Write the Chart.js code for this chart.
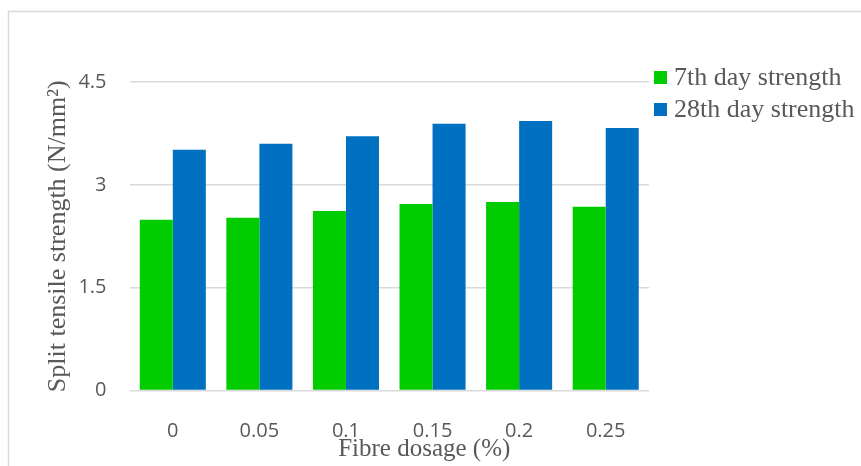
<!DOCTYPE html>
<html>
<head>
<meta charset="utf-8">
<script src="https://cdn.jsdelivr.net/npm/chart.js@4/dist/chart.umd.min.js"></script>
<style>
  html, body { margin: 0; padding: 0; background: #ffffff; }
  #wrap { position: relative; width: 861px; height: 466px; }
</style>
</head>
<body>
<div id="wrap"><canvas id="chart" width="861" height="466"></canvas></div>
<script>
// Fibre dosage (%) on the x axis
const categories = ['0', '0.05', '0.1', '0.15', '0.2', '0.25'];
// Split tensile strength, N/mm²
const strength7 = [2.49, 2.52, 2.62, 2.72, 2.75, 2.68];
const strength28 = [3.51, 3.60, 3.71, 3.89, 3.93, 3.83];
const yTickValues = [0, 1.5, 3, 4.5];

const seriesNames = ['7th day strength', '28th day strength'];
const seriesColors = ['#00CC00', '#0070C0'];

const TEXT = '#595959';
const GRID = '#D9D9D9';
const SERIF = '"Liberation Serif", "Times New Roman", serif';
const SANS = '"Open Sans", "Liberation Sans", sans-serif';

// Light frame around the chart, as in the office-style chart area
const framePlugin = {
  id: 'frame',
  beforeDraw(chart) {
    const ctx = chart.ctx;
    ctx.save();
    ctx.fillStyle = '#ffffff';
    ctx.fillRect(0, 0, chart.width, chart.height);
    ctx.strokeStyle = GRID;
    ctx.lineWidth = 1.5;
    ctx.beginPath();
    ctx.moveTo(8.5, chart.height);
    ctx.lineTo(8.5, 11.5);
    ctx.lineTo(chart.width, 11.5);
    ctx.stroke();
    ctx.restore();
  }
};

// Legend on the right, built from the datasets
const sideLegend = {
  id: 'sideLegend',
  afterDraw(chart) {
    const ctx = chart.ctx;
    const area = chart.chartArea;
    ctx.save();
    ctx.font = '26px ' + SERIF;
    ctx.textBaseline = 'middle';
    ctx.textAlign = 'left';
    chart.data.datasets.forEach((ds, i) => {
      const cy = 77.5 + i * 32;
      const bx = area.right + 5;
      ctx.fillStyle = ds.backgroundColor;
      ctx.fillRect(bx, cy - 6.5, 13, 13);
      ctx.fillStyle = TEXT;
      ctx.fillText(ds.label, bx + 20, cy + 1);
    });
    ctx.restore();
  }
};

// x axis title, set a little right of the plot centre
const xTitle = {
  id: 'xTitle',
  afterDraw(chart) {
    const ctx = chart.ctx;
    const area = chart.chartArea;
    ctx.save();
    ctx.font = '25px ' + SERIF;
    ctx.fillStyle = TEXT;
    ctx.textAlign = 'center';
    ctx.textBaseline = 'alphabetic';
    ctx.fillText('Fibre dosage (%)', (area.left + area.right) / 2 + 35, 456);
    ctx.restore();
  }
};

new Chart(document.getElementById('chart'), {
  type: 'bar',
  data: {
    labels: categories,
    datasets: [
      { label: seriesNames[0], data: strength7, backgroundColor: seriesColors[0] },
      { label: seriesNames[1], data: strength28, backgroundColor: seriesColors[1] }
    ]
  },
  options: {
    responsive: false,
    animation: false,
    devicePixelRatio: 1,
    layout: { padding: { left: 0, right: 212, top: 82, bottom: 0 } },
    datasets: {
      bar: { categoryPercentage: 0.763, barPercentage: 1.0, borderWidth: 0 }
    },
    plugins: {
      legend: { display: false },
      tooltip: { enabled: false }
    },
    scales: {
      x: {
        grid: { display: false, drawTicks: false },
        border: { display: false },
        ticks: {
          color: TEXT,
          font: { family: SANS, size: 20 },
          padding: 29,
          maxRotation: 0
        },
        afterFit(scale) { scale.height = 466 - 390.5; }
      },
      y: {
        min: 0,
        max: 4.5,
        afterBuildTicks(scale) {
          scale.ticks = yTickValues.map(v => ({ value: v }));
        },
        grid: { color: GRID, lineWidth: 1.5, drawTicks: false },
        border: { display: false },
        ticks: {
          color: TEXT,
          font: { family: SANS, size: 20 },
          padding: 23,
          callback: v => String(v)
        },
        title: {
          display: true,
          text: 'Split tensile strength (N/mm²)',
          color: TEXT,
          font: { family: SERIF, size: 26 },
          padding: { top: 43, bottom: 0 }
        },
        afterFit(scale) { scale.width = 129.5; }
      }
    }
  },
  plugins: [framePlugin, sideLegend, xTitle]
});
</script>
</body>
</html>
